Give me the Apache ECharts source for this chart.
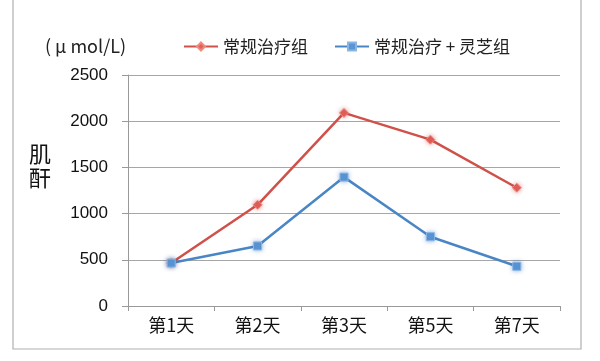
<!DOCTYPE html>
<html><head><meta charset="utf-8">
<script src="https://cdn.jsdelivr.net/npm/echarts@6/dist/echarts.min.js"></script>
<style>html,body{margin:0;padding:0;background:#fff}#c{width:600px;height:361px}</style>
</head><body><div id="c"></div>
<script>
var categories = ['第1天','第2天','第3天','第5天','第7天'];
var seriesNames = ['常规治疗组','常规治疗 + 灵芝组'];
var redValues = [465, 1095, 2090, 1800, 1280];
var blueValues = [465, 650, 1395, 750, 430];
var yMin = 0, yMax = 2500, yStep = 500;
var unitLabel = '( \u03bc mol/L)';
var yName = '肌\n酐';

var chart = echarts.init(document.getElementById('c'), null, {renderer:'canvas'});
var font = '"Noto Sans CJK SC", "Noto Sans", sans-serif';
chart.setOption({
  animation:false,
  backgroundColor:'#fff',
  textStyle:{fontFamily:font},
  grid:{left:128, right:40, top:75, bottom:55},
  legend:{
    top:33, left:178, itemGap:26, itemWidth:34, itemHeight:10,
    textStyle:{fontSize:17, color:'#222', fontFamily:font},
    data:seriesNames
  },
  xAxis:{
    type:'category', data:categories, boundaryGap:true,
    axisLine:{lineStyle:{color:'#999', width:1}},
    axisTick:{show:true, length:5, lineStyle:{color:'#999'}},
    axisLabel:{fontSize:18, color:'#111', margin:10, fontFamily:font}
  },
  yAxis:{
    type:'value', min:yMin, max:yMax, interval:yStep,
    axisLine:{show:true, lineStyle:{color:'#999'}},
    axisTick:{show:true, length:6, lineStyle:{color:'#999'}},
    axisLabel:{fontSize:17, color:'#111', margin:20, fontFamily:'"Liberation Sans", Arial, sans-serif', formatter:function(v){return String(v);}},
    splitLine:{lineStyle:{color:'#a6a6a6', width:1.2}}
  },
  graphic:[
    {type:'rect', shape:{x:13, y:-5, width:568, height:354}, style:{fill:'none', stroke:'#b0b0b0', lineWidth:1.2}, z:-1},
    {type:'text', left:45, top:37, style:{text:unitLabel, font:'18px '+font, fill:'#222'}},
    {type:'text', left:29, top:142, style:{text:yName, font:'22px '+font, fill:'#111', lineHeight:24}}
  ],
  series:[
    {name:seriesNames[0], type:'line', data:redValues, symbol:'diamond', symbolSize:9,
     lineStyle:{color:'#d0504a', width:2.5}, itemStyle:{color:'#e0605a', borderColor:'#f08a80', borderWidth:1, shadowBlur:4, shadowColor:'rgba(200,60,60,0.5)'}},
    {name:seriesNames[1], type:'line', data:blueValues, symbol:'rect', symbolSize:8,
     lineStyle:{color:'#4a86c5', width:2.5}, itemStyle:{color:'#5b95d2', borderColor:'#8ab6e6', borderWidth:1, shadowBlur:4, shadowColor:'rgba(60,120,200,0.5)'}}
  ]
});
</script></body></html>
